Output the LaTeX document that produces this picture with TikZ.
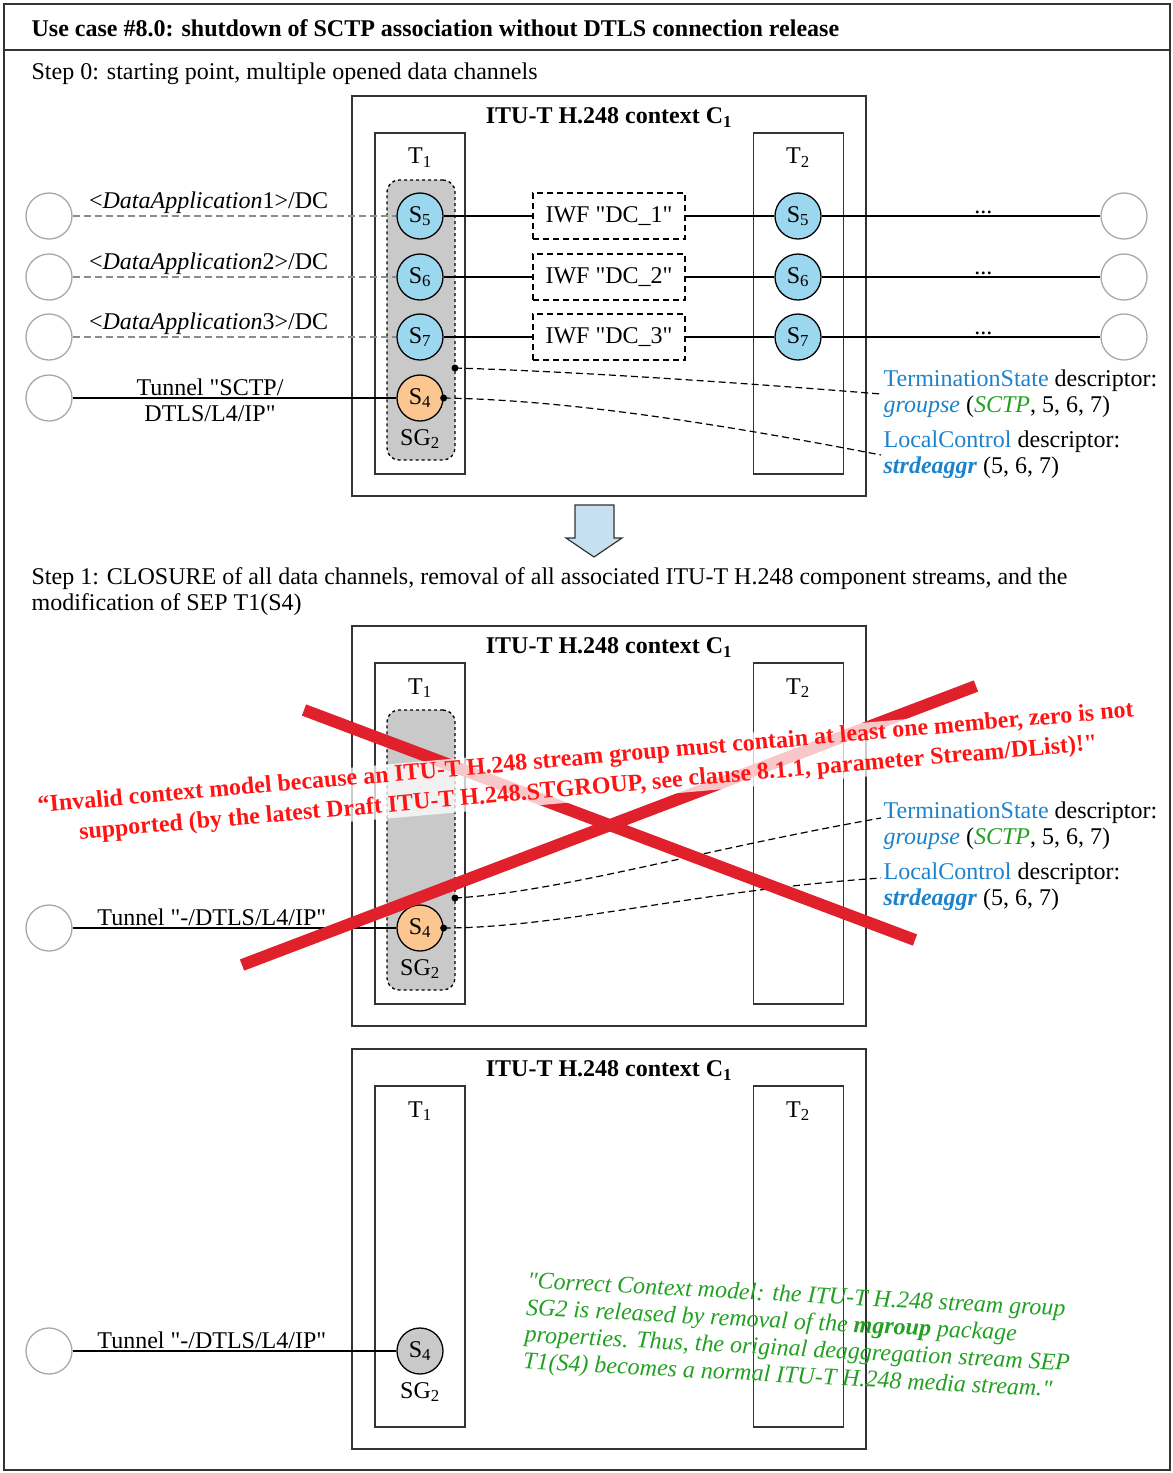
\documentclass[tikz,border=0pt]{standalone}
\usepackage{fontspec}
\setmainfont{Liberation Serif}[Ligatures=TeXOff]
\usepackage{xcolor}
\usetikzlibrary{positioning}
\definecolor{ink}{HTML}{333333}
\definecolor{sblue}{HTML}{9CD7F0}
\definecolor{sorange}{HTML}{FBC68F}
\definecolor{sggray}{HTML}{C9C9C9}
\definecolor{epgray}{HTML}{A8A8A8}
\definecolor{dcgray}{HTML}{8C8C8C}
\definecolor{descblue}{HTML}{1C82CC}
\definecolor{okgreen}{HTML}{22A022}
\definecolor{warnred}{HTML}{FF1414}
\definecolor{crossred}{HTML}{E0202A}
\definecolor{arrowblue}{HTML}{C6DFF1}
\newcommand{\bodyfont}{\fontsize{24}{26}\selectfont}

\begin{document}
\begin{tikzpicture}[
    x=1pt, y=-1pt,
    line width=1.3pt,
    every node/.style={font=\bodyfont, inner sep=2pt},
    ctxbox/.style={draw=ink, line width=1.8pt, minimum width=514pt, minimum height=400pt},
    termbox/.style={draw=ink, line width=1.6pt, minimum width=90pt, minimum height=341pt},
    sgbox/.style={draw, dashed, fill=sggray, rounded corners=12pt, minimum width=68pt, minimum height=280pt},
    stream/.style={circle, draw, line width=1.3pt, minimum size=46pt, inner sep=0pt},
    endpt/.style={circle, draw=epgray, fill=white, line width=1.3pt, minimum size=46pt},
    iwf/.style={draw, line width=1.1pt, dash pattern=on 6pt off 4pt, minimum width=152pt, minimum height=46pt},
    dcline/.style={draw=dcgray, dash pattern=on 7pt off 4pt},
    pointer/.style={dash pattern=on 7pt off 4pt, line width=1.2pt},
    desc/.style={anchor=west, align=left},
    cross/.style={crossred, line width=12pt},
    warn/.style={align=center, text=warnred, font=\fontsize{24}{30}\selectfont\bfseries,
        fill=white, fill opacity=0.75, text opacity=1, inner sep=1pt},
    note/.style={align=left, text=okgreen, font=\fontsize{24}{27}\selectfont\itshape}
]
\useasboundingbox (0,0) rectangle (1173,1473);
%====================================================
% FRAME
%====================================================
\draw[ink, line width=1.8pt] (4,4) rectangle (1170,1470);
\draw[ink, line width=1.8pt] (4,50) -- (1170,50);
\node[anchor=west, font=\bodyfont\bfseries] (title) at (29,28)
    {Use case \#8.0: shutdown of SCTP association without DTLS connection release};
\node[anchor=west] (step0) at (29,74) {Step 0: starting point, multiple opened data channels};
\node[anchor=west, align=left] (step1) at (29,591.5)
    {Step 1: CLOSURE of all data channels, removal of all associated ITU-T H.248 component streams, and the\\
     modification of SEP T1(S4)};

%====================================================
% CONTEXTS
%====================================================
\foreach \p/\dy in {0/0,1/530,2/953}
{
    \begin{scope}[shift={(0,\dy)}]
    \node[ctxbox] (ctx\p) at (609,296) {};
    \node[font=\bodyfont\bfseries, below=10pt of ctx\p.north] (ctxlab\p) {ITU-T H.248 context C\textsubscript{1}};
    \node[termbox] (tl\p) at (420,303.5) {};
    \node[termbox] (tr\p) at (798.5,303.5) {};
    \node (tllab\p) at (420,158) {T\textsubscript{1}};
    \node (trlab\p) at (798,158) {T\textsubscript{2}};
    \end{scope}
}

%====================================================
% STEP 0
%====================================================
\begin{scope}[shift={(0,0)}]
\node[sgbox] (sg0) at (421,320) {};
\node (sglab0) at (420,439) {SG\textsubscript{2}};
\foreach \s/\d/\y in {5/1/216,6/2/277,7/3/337}
{
    \node[stream, fill=sblue] (sl\s) at (420,\y) {S\textsubscript{\s}};
    \node[stream, fill=sblue] (sr\s) at (798,\y) {S\textsubscript{\s}};
    \node[iwf] (iwf\d) at (609,\y) {IWF "DC\_\d"};
    \node[endpt] (epl\s) at (49,\y) {};
    \node[endpt] (epr\s) at (1124,\y) {};
    \draw[dcline] (epl\s) -- node[pos=0.42, above] (dclab\s) {<\textit{DataApplication}\d>/DC} (sl\s);
    \draw (sl\s) -- (iwf\d);
    \draw (iwf\d) -- (sr\s);
    \draw (sr\s) -- node[pos=0.58, above] (dots\s) {...} (epr\s);
}
\node[stream, fill=sorange] (s40) at (420,398) {S\textsubscript{4}};
\node[endpt] (ep40) at (49,398) {};
\draw (ep40) -- (s40);
\node[align=center] (tun0) at (210,400) {Tunnel "SCTP/\\DTLS/L4/IP"};
\coordinate (dotsg0) at (455,368);
\fill (dotsg0) circle (3.5pt);
\fill (s40.east) circle (3.5pt);
\node[desc] (ts0) at (881,394) {\textcolor{descblue}{TerminationState} descriptor:\\
    \textcolor{descblue}{\textit{groupse}} (\textcolor{okgreen}{\textit{SCTP}}, 5, 6, 7)};
\node[desc] (lc0) at (881,455) {\textcolor{descblue}{LocalControl} descriptor:\\
    \textcolor{descblue}{\textbf{\textit{strdeaggr}}} (5, 6, 7)};
\draw[pointer] (dotsg0) .. controls (560,371) and (720,381) .. (ts0.west);
\draw[pointer] (s40.east) .. controls (560,400) and (700,420) .. (lc0.west);
\end{scope}

% arrow to step 1
\draw[ink, line width=1.2pt, fill=arrowblue] (575,505) -- (614,505) -- (614,538) -- (622,538)
    -- (594,557) -- (566,538) -- (575,538) -- cycle;

%====================================================
% STEP 1
%====================================================
\begin{scope}[shift={(0,530)}]
\node[sgbox] (sg1) at (421,320) {};
\node (sglab1) at (420,439) {SG\textsubscript{2}};
\node[stream, fill=sorange] (s41) at (420,398) {S\textsubscript{4}};
\node[endpt] (ep41) at (49,398) {};
\draw (ep41) -- node[pos=0.43, above] (tun1) {Tunnel "-/DTLS/L4/IP"} (s41);
\coordinate (dotsg1) at (455,368);
\fill (dotsg1) circle (3.5pt);
\fill (s41.east) circle (3.5pt);
\node[desc] (ts1) at (881,296) {\textcolor{descblue}{TerminationState} descriptor:\\
    \textcolor{descblue}{\textit{groupse}} (\textcolor{okgreen}{\textit{SCTP}}, 5, 6, 7)};
\node[desc] (lc1) at (881,357) {\textcolor{descblue}{LocalControl} descriptor:\\
    \textcolor{descblue}{\textbf{\textit{strdeaggr}}} (5, 6, 7)};
\draw[pointer] (dotsg1) .. controls (560,362) and (700,320) .. ([yshift=8pt]ts1.west);
\draw[pointer] (s41.east) .. controls (560,398) and (700,360) .. ([yshift=9pt]lc1.west);
\end{scope}

\draw[cross] (304,710) -- (915,940);
\draw[cross] (242,965) -- (976,686);
\node[warn, rotate=5] (warn) at (587,774)
    {“Invalid context model because an ITU-T H.248 stream group must contain at least one member, zero is not\\
     supported (by the latest Draft ITU-T H.248.STGROUP, see clause 8.1.1, parameter Stream/DList)!"};

%====================================================
% STEP 2
%====================================================
\begin{scope}[shift={(0,953)}]
\node[stream, fill=sggray] (s42) at (420,398) {S\textsubscript{4}};
\node (sglab2) at (420,439) {SG\textsubscript{2}};
\node[endpt] (ep42) at (49,398) {};
\draw (ep42) -- node[pos=0.43, above] (tun2) {Tunnel "-/DTLS/L4/IP"} (s42);
\end{scope}
\node[note, rotate=-3] (note) at (798,1337)
    {"Correct Context model: the ITU-T H.248 stream group\\
     SG2 is released by removal of the \textbf{mgroup} package\\
     properties. Thus, the original deaggregation stream SEP\\
     T1(S4) becomes a normal ITU-T H.248 media stream."};
\end{tikzpicture}
\end{document}
